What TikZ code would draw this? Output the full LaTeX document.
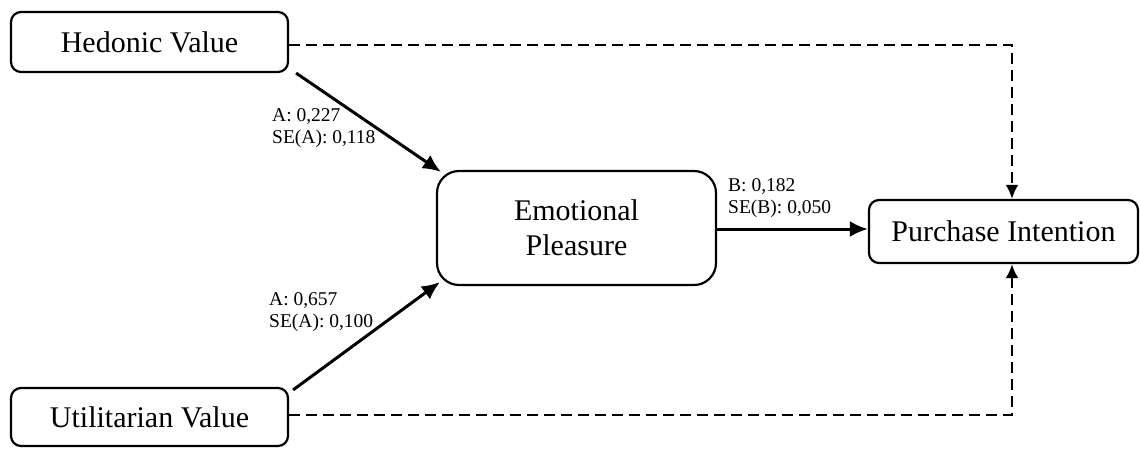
\documentclass[tikz,border=0pt]{standalone}
\usepackage{fontspec}
\setmainfont{Liberation Serif}
\usetikzlibrary{arrows.meta}
\tikzset{
  box/.style={draw, line width=2.2pt, rounded corners=10pt, align=center, inner sep=0pt,
    font=\fontsize{30}{35}\selectfont},
  path/.style={line width=3pt, -{Latex[length=18pt,width=16pt]}},
  dpath/.style={line width=2.6pt, dash pattern=on 11pt off 6pt, -{Latex[length=14pt,width=13pt]}},
  lbl/.style={anchor=west, align=left, inner sep=0pt, font=\fontsize{19.5}{21.5}\selectfont}
}
\begin{document}
\begin{tikzpicture}[x=1pt,y=-1pt]
\useasboundingbox (0,0) rectangle (1140,448);
\node[box, minimum width=277pt, minimum height=60pt] (H) at (149.5,42) {Hedonic Value};
\node[box, minimum width=277pt, minimum height=58pt] (U) at (149.5,417) {Utilitarian Value};
\node[box, minimum width=279pt, minimum height=114pt, rounded corners=22pt] (E) at (576.5,228) {Emotional\\Pleasure};
\node[box, minimum width=269pt, minimum height=63pt] (P) at (1003.5,231.5) {Purchase Intention};
\coordinate (hs) at ([shift={(7,0)}]H.south east);
\coordinate (he) at ([shift={(5,2)}]E.north west);
\coordinate (us) at ([shift={(4,3)}]U.north east);
\coordinate (ue) at ([shift={(4,-4)}]E.south west);
\coordinate (ptop) at ([xshift=8.5pt]P.north);
\coordinate (pbot) at ([xshift=8.5pt]P.south);
\coordinate (hd) at ([yshift=-3pt]H.east);
\coordinate (ud) at ([yshift=2pt]U.east);
\coordinate (eb) at ([yshift=-1pt]E.east);
\draw[path] (hs) -- (he);
\draw[path] (us) -- (ue);
\draw[path] (eb) -- (eb -| P.west);
\draw[dpath] (hd) -- (hd -| ptop) -- (ptop);
\draw[dpath] (ud) -- (ud -| pbot) -- (pbot);
\node[lbl] (la) at (272,128) {A: 0,227\\SE(A): 0,118};
\node[lbl] (lu) at (269,312) {A: 0,657\\SE(A): 0,100};
\node[lbl] (lb) at (728,198) {B: 0,182\\SE(B): 0,050};
\end{tikzpicture}
\end{document}
